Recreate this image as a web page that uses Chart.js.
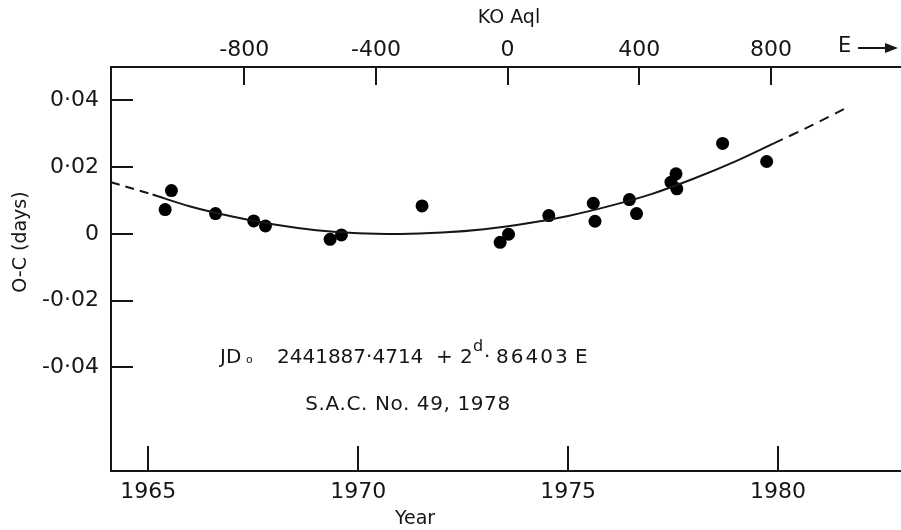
<!DOCTYPE html>
<html>
<head>
<meta charset="utf-8">
<script src="https://cdn.jsdelivr.net/npm/chart.js@4/dist/chart.umd.min.js"></script>
<style>
  html, body { margin: 0; padding: 0; background: #fff; }
  #wrap { width: 901px; height: 530px; }
</style>
</head>
<body>
<div id="wrap"><canvas id="ocChart" width="901" height="530"></canvas></div>
<script>
// observed O-C timings of KO Aql (year, days)
const obsYears = [1965.40, 1965.55, 1966.60, 1967.51, 1967.79, 1969.33, 1969.60, 1971.52,
                  1973.38, 1973.58, 1974.54, 1975.60, 1975.64, 1976.46, 1976.63,
                  1977.45, 1977.57, 1977.59, 1978.68, 1979.73];
const obsOC = [0.0073, 0.0130, 0.0061, 0.0039, 0.0024, -0.0016, -0.0003, 0.0084,
               -0.0025, -0.0001, 0.0055, 0.0092, 0.0038, 0.0103, 0.0061,
               0.0155, 0.0180, 0.0135, 0.0271, 0.0217];

// fitted curve (solid part + dashed extrapolations)
const fitYears = [1965.1, 1966, 1967, 1968, 1969, 1970, 1971, 1972, 1973, 1974,
                  1975, 1976, 1977, 1978, 1979, 1979.9];
const fitOC = [0.0118, 0.0082, 0.0052, 0.0028, 0.0011, 0.0002, 0.0000, 0.0004, 0.0014, 0.0031,
               0.0054, 0.0084, 0.0120, 0.0166, 0.0218, 0.0271];
const dashLeftYears = [1964.11, 1965.1];
const dashLeftOC = [0.0155, 0.0118];
const dashRightYears = [1979.9, 1980.8, 1981.66];
const dashRightOC = [0.0271, 0.0325, 0.0380];

// ticks
const yearTicks = [1965, 1970, 1975, 1980];
const ocTicks = [0.04, 0.02, 0, -0.02, -0.04];
const epochTicks = [-800, -400, 0, 400, 800];

// axis ranges
const yearMin = 1964.11, yearMax = 1982.93;
const ocMin = -0.071, ocMax = 0.05;

// ephemeris: JD0 2441887.4714 + 2.86403 E  (E = 0 at 1973.558)
const epochYear = 1973 + (2441887.4714 - 2441683.5) / 365.25;
const period = 2.86403;
const toEpoch = y => (y - epochYear) * 365.25 / period;

const ink = '#161616';
const fontFam = '"DejaVu Sans", "Liberation Sans", sans-serif';

function pts(xs, ys) {
    return xs.map((x, i) => ({ x: x, y: ys[i] }));
}

const fixedTicks = list => scale => { scale.ticks = list.map(v => ({ value: v })); };
// no extra side padding for label overhang, chart runs to the canvas edge
const noPad = size => s => {
    if (s.isHorizontal()) { s.height = size; } else { s.width = size; }
    s.paddingLeft = 0; s.paddingRight = 0; s.paddingTop = 0; s.paddingBottom = 0;
};

// inward tick marks + free text
const decorPlugin = {
    id: 'decor',
    afterDraw(chart) {
        const c = chart.ctx;
        const area = chart.chartArea;
        const sx = chart.scales.x, sy = chart.scales.y, se = chart.scales.xE;
        c.save();
        c.strokeStyle = ink;
        c.lineWidth = 2;
        c.beginPath();
        yearTicks.forEach(v => {
            const px = Math.round(sx.getPixelForValue(v));
            c.moveTo(px, area.bottom); c.lineTo(px, area.bottom - 25);
        });
        epochTicks.forEach(v => {
            const px = Math.round(se.getPixelForValue(v));
            c.moveTo(px, area.top); c.lineTo(px, area.top + 18);
        });
        ocTicks.forEach(v => {
            const py = Math.round(sy.getPixelForValue(v));
            c.moveTo(area.left, py); c.lineTo(area.left + 22, py);
        });
        c.stroke();

        c.fillStyle = ink;
        c.textBaseline = 'middle';
        c.textAlign = 'center';
        c.font = '19px ' + fontFam;
        c.fillText('Year', 415, 519);
        c.fillText('KO Aql', 509, 18);

        c.save();
        c.translate(21, 242);
        c.rotate(-Math.PI / 2);
        c.fillText('O-C (days)', 0, 0);
        c.restore();

        // E arrow
        c.textAlign = 'left';
        c.font = '21px ' + fontFam;
        c.fillText('E', 838, 47);
        c.beginPath();
        c.moveTo(858, 48); c.lineTo(893, 48);
        c.stroke();
        c.beginPath();
        c.moveTo(898, 48); c.lineTo(885, 43); c.lineTo(885, 53); c.closePath();
        c.fill();

        // ephemeris note
        c.textBaseline = 'alphabetic';
        c.font = '20px ' + fontFam;
        c.fillText('JD', 220, 363);
        c.font = '11px ' + fontFam;
        c.fillText('o', 246, 363);
        c.font = '20px ' + fontFam;
        c.fillText('2441887·4714', 277, 363);
        c.fillText('+', 436, 363);
        c.fillText('2', 460, 363);
        c.font = '16px ' + fontFam;
        c.fillText('d', 473, 351);
        c.font = '20px ' + fontFam;
        c.fillText('·', 484, 363);
        c.letterSpacing = '2px';
        c.fillText('86403', 496, 363);
        c.letterSpacing = '0px';
        c.fillText('E', 575, 363);
        c.textAlign = 'center';
        c.letterSpacing = '0.6px';
        c.fillText('S.A.C. No. 49, 1978', 408, 410);
        c.restore();
    }
};

const tickFont = { family: fontFam, size: 22 };

const ctx = document.getElementById('ocChart').getContext('2d');
new Chart(ctx, {
    type: 'scatter',
    data: {
        datasets: [
            {
                label: 'fit',
                data: pts(fitYears, fitOC),
                showLine: true,
                borderColor: ink,
                borderWidth: 2,
                pointRadius: 0,
                cubicInterpolationMode: 'monotone'
            },
            {
                label: 'fit left',
                data: pts(dashLeftYears, dashLeftOC),
                showLine: true,
                borderColor: ink,
                borderWidth: 2,
                borderDash: [9, 6],
                pointRadius: 0
            },
            {
                label: 'fit right',
                data: pts(dashRightYears, dashRightOC),
                showLine: true,
                borderColor: ink,
                borderWidth: 2,
                borderDash: [10, 7],
                pointRadius: 0,
                tension: 0.2
            },
            {
                label: 'O-C',
                data: pts(obsYears, obsOC),
                showLine: false,
                pointRadius: 6.5,
                pointBackgroundColor: '#000',
                pointBorderColor: '#000',
                pointBorderWidth: 0
            }
        ]
    },
    options: {
        responsive: false,
        animation: false,
        layout: { padding: 0, autoPadding: false },
        plugins: {
            legend: { display: false },
            tooltip: { enabled: false }
        },
        scales: {
            x: {
                type: 'linear',
                position: 'bottom',
                min: yearMin,
                max: yearMax,
                afterBuildTicks: fixedTicks(yearTicks),
                afterFit: noPad(59),
                grid: { display: false, drawTicks: false },
                border: { display: true, color: ink, width: 2 },
                ticks: {
                    color: ink,
                    padding: 8,
                    maxRotation: 0,
                    font: tickFont,
                    callback: v => String(v)
                }
            },
            xE: {
                type: 'linear',
                position: 'top',
                min: toEpoch(yearMin),
                max: toEpoch(yearMax),
                afterBuildTicks: fixedTicks(epochTicks),
                afterFit: noPad(67),
                grid: { display: false, drawTicks: false },
                border: { display: true, color: ink, width: 2 },
                ticks: {
                    color: ink,
                    padding: 4,
                    maxRotation: 0,
                    font: tickFont,
                    callback: v => String(v)
                }
            },
            y: {
                type: 'linear',
                position: 'left',
                min: ocMin,
                max: ocMax,
                afterBuildTicks: fixedTicks(ocTicks),
                afterFit: noPad(111),
                grid: { display: false, drawTicks: false },
                border: { display: true, color: ink, width: 2 },
                ticks: {
                    color: ink,
                    padding: 12,
                    font: tickFont,
                    callback: v => v === 0 ? '0' : v.toFixed(2).replace('.', '·')
                }
            }
        }
    },
    plugins: [decorPlugin]
});
</script>
</body>
</html>
